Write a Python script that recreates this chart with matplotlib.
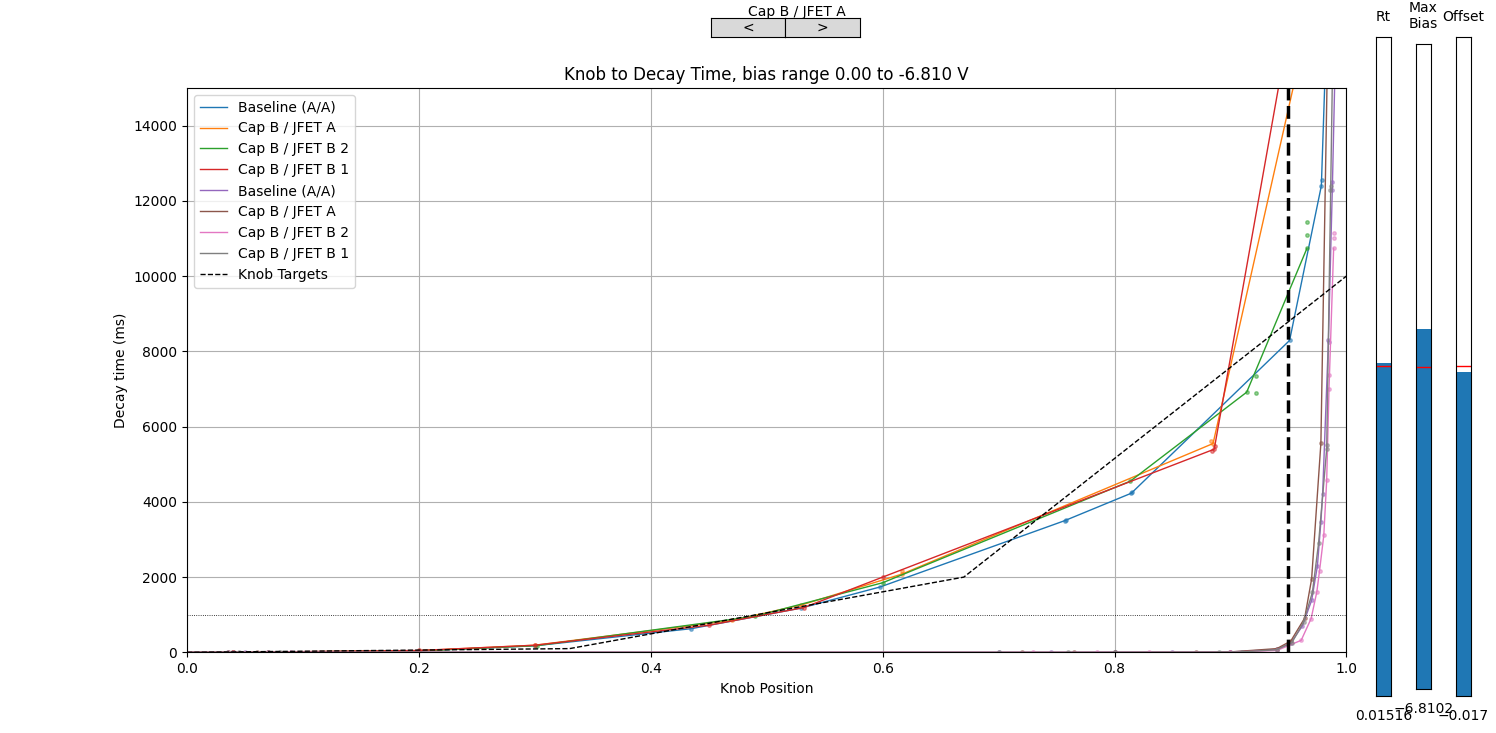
"""
Knob position vs decay time for the compressor bias sweep, with the
slider / button panel drawn as static widgets.
"""

import matplotlib
matplotlib.use("Agg")
import matplotlib.pyplot as plt

# --- first set of curves (rise mid-travel) ---
blue_knob = [0.0, 0.04, 0.07, 0.2, 0.3, 0.435, 0.53, 0.598, 0.757, 0.8145, 0.951, 0.9784, 0.985]
blue_ms = [0, 2, 5, 40, 175, 630, 1180, 1740, 3500, 4230, 8290, 12400, 18500]

orange_knob = [0.0, 0.04, 0.07, 0.2, 0.3, 0.47, 0.53, 0.6166, 0.885, 0.965]
orange_ms = [0, 3, 6, 45, 190, 850, 1260, 2080, 5550, 16500]

green_knob = [0.0, 0.04, 0.2, 0.302, 0.49, 0.6, 0.8136, 0.914, 0.966]
green_ms = [0, 2, 40, 180, 960, 1850, 4550, 6915, 10740]

red_knob = [0.0, 0.04, 0.2, 0.3, 0.45, 0.532, 0.6, 0.886, 0.95]
red_ms = [0, 2, 50, 190, 720, 1190, 2000, 5400, 16500]

# --- second set of curves (flat until the very end) ---
purple_knob = [0.0, 0.035, 0.05, 0.07, 0.7, 0.745, 0.8, 0.85, 0.9, 0.94, 0.952, 0.962,
               0.970, 0.975, 0.978, 0.9795, 0.9845, 0.988, 0.992]
purple_ms = [0, 0, 0, 0, 0, 0, 2, 4, 10, 80, 250, 700,
             1380, 2300, 3470, 4210, 8300, 12500, 18000]

brown_knob = [0.0, 0.035, 0.06, 0.72, 0.765, 0.8, 0.87, 0.9, 0.94, 0.952, 0.964,
              0.970, 0.978, 0.9835, 0.986]
brown_ms = [0, 0, 0, 0, 0, 2, 5, 12, 100, 300, 910,
            1950, 5560, 15500, 20000]

pink_knob = [0.0, 0.04, 0.09, 0.73, 0.785, 0.83, 0.9, 0.94, 0.961, 0.9696, 0.9745,
             0.9768, 0.9805, 0.983, 0.985, 0.989]
pink_ms = [0, 0, 0, 0, 0, 1, 6, 50, 320, 900, 1610,
           2160, 3110, 4570, 7000, 10740]

gray_knob = [0.0, 0.045, 0.08, 0.7, 0.76, 0.8, 0.89, 0.91, 0.94, 0.953, 0.963,
             0.9707, 0.976, 0.983, 0.9865, 0.989]
gray_ms = [0, 0, 0, 0, 0, 2, 7, 12, 70, 260, 800,
           1600, 2900, 5400, 12400, 17500]

# a few repeat measurements that sit off the averaged line
extra_knob = {
    "C0": [0.979, 0.8155, 0.758],
    "C1": [0.883, 0.617],
    "C2": [0.922, 0.922, 0.966, 0.966],
    "C3": [0.884, 0.887],
    "C4": [0.988, 0.985],
    "C6": [0.989, 0.989, 0.985],
    "C7": [0.986, 0.9835],
}
extra_ms = {
    "C0": [12550, 4270, 3520],
    "C1": [5620, 2150],
    "C2": [7354, 6890, 11100, 11450],
    "C3": [5350, 5480],
    "C4": [12300, 8250],
    "C6": [11150, 11000, 7370],
    "C7": [12300, 5500],
}

SERIES = [
    ("Baseline (A/A)", blue_knob, blue_ms, "C0"),
    ("Cap B / JFET A", orange_knob, orange_ms, "C1"),
    ("Cap B / JFET B 2", green_knob, green_ms, "C2"),
    ("Cap B / JFET B 1", red_knob, red_ms, "C3"),
    ("Baseline (A/A)", purple_knob, purple_ms, "C4"),
    ("Cap B / JFET A", brown_knob, brown_ms, "C5"),
    ("Cap B / JFET B 2", pink_knob, pink_ms, "C6"),
    ("Cap B / JFET B 1", gray_knob, gray_ms, "C7"),
]

target_knob = [0.0, 0.33, 0.67, 1.0]
target_ms = [0, 100, 2000, 10000]

THRESHOLD_MS = 1000
MARKER_KNOB = 0.95

# slider panel: label, valmin, valmax, valinit, val, shown text
SLIDERS = [
    ("Rt", 0.0, 0.03, 0.015, 0.01516, "0.01516"),
    ("Max\nBias", -8.636, -5.364, -7.0, -6.8102, "\u22126.8102"),
    ("Offset", -1.0, 1.0, 0.0, -0.017, "\u22120.017"),
]
SLIDER_RECTS = [
    [0.9198, 0.0505, 0.0100, 0.899],
    [0.9465, 0.0600, 0.0100, 0.880],
    [0.9733, 0.0505, 0.0100, 0.899],
]


def draw_slider(ax, label, vmin, vmax, vinit, val, text):
    """Static look-alike of an old-style vertical matplotlib Slider."""
    ax.set_xlim(0, 1)
    ax.set_ylim(vmin, vmax)
    ax.axhspan(vmin, val, 0, 1, facecolor="C0")
    ax.axhline(vinit, 0, 1, color="r", lw=1)
    ax.set_xticks([])
    ax.set_yticks([])
    ax.text(0.5, 1.02, label, transform=ax.transAxes, ha="center", va="bottom")
    ax.text(0.5, -0.02, text, transform=ax.transAxes, ha="center", va="top")


def draw_button(ax, text):
    ax.set_facecolor("0.85")
    ax.set_xticks([])
    ax.set_yticks([])
    ax.text(0.5, 0.5, text, transform=ax.transAxes, ha="center", va="center")


def main():
    fig, ax = plt.subplots(figsize=(14.96, 7.33), dpi=100)

    for label, knob, ms, color in SERIES:
        ax.plot(knob, ms, color=color, lw=1, label=label)
        ax.plot(knob[1:], ms[1:], "o", color=color, ms=2.5, alpha=0.5)
        if color in extra_knob:
            ax.plot(extra_knob[color], extra_ms[color], "o", color=color,
                    ms=2.5, alpha=0.5)

    ax.plot(target_knob, target_ms, "k--", lw=1, label="Knob Targets")
    ax.axhline(THRESHOLD_MS, color="k", ls=":", lw=0.6)
    ax.axvline(MARKER_KNOB, color="k", ls="--", lw=2.5)

    ax.set_xlim(0, 1)
    ax.set_ylim(0, 15000)
    ax.set_xlabel("Knob Position")
    ax.set_ylabel("Decay time (ms)")
    ax.set_title("Knob to Decay Time, bias range 0.00 to -6.810 V")
    ax.grid(True)
    ax.legend(loc="upper left")

    # slider panel on the right
    for rect, (label, vmin, vmax, vinit, val, text) in zip(SLIDER_RECTS, SLIDERS):
        sax = fig.add_axes(rect)
        draw_slider(sax, label, vmin, vmax, vinit, val, text)

    # prev / next buttons
    draw_button(fig.add_axes([0.475, 0.9495, 0.05, 0.026]), "<")
    draw_button(fig.add_axes([0.525, 0.9495, 0.05, 0.026]), ">")
    fig.text(0.5, 1 - 16 / 733, "Cap B / JFET A", ha="left", va="baseline")

    fig.savefig("out.png", dpi=100)


if __name__ == "__main__":
    main()
